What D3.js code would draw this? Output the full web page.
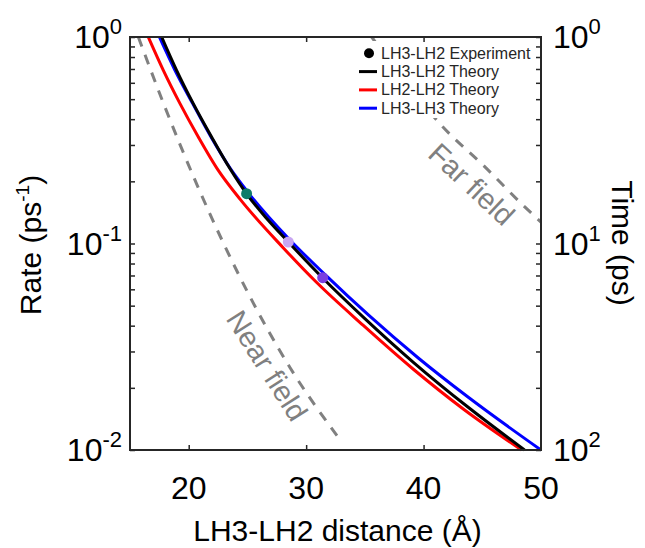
<!DOCTYPE html>
<html>
<head>
<meta charset="utf-8">
<script src="https://cdn.jsdelivr.net/npm/d3@7"></script>
<style>
  body { margin: 0; background: #fff; }
  text { font-family: "Liberation Sans", Arial, sans-serif; }
</style>
</head>
<body>
<svg id="chart" width="645" height="548"></svg>
<script>
// values
const lh3lh2Dist = [17.70, 18.97, 20.39, 21.95, 23.52, 24.93, 26.64, 28.48, 31.41, 35.00, 39.13, 43.80, 48.60];
const lh3lh2Rate = [1.0, 0.690, 0.476, 0.328, 0.230, 0.174, 0.132, 0.1017, 0.0681, 0.0433, 0.0266, 0.0161, 0.0100];

const lh2lh2Dist = [16.56, 17.84, 19.26, 20.82, 22.52, 24.37, 28.06, 30.90, 34.87, 39.13, 43.38, 48.35];
const lh2lh2Rate = [1.0, 0.690, 0.476, 0.328, 0.226, 0.164, 0.0952, 0.0647, 0.0401, 0.0246, 0.0158, 0.0100];

const lh3lh3Dist = [17.50, 18.83, 20.34, 21.90, 23.52, 25.08, 28.62, 31.75, 35.30, 39.55, 43.81, 50.0];
const lh3lh3Rate = [1.0, 0.690, 0.476, 0.328, 0.232, 0.176, 0.104, 0.0695, 0.0451, 0.0279, 0.0180, 0.0100];

const nearDist = [15.71, 17.84, 20.68, 22.95, 25.05, 28.62, 32.71];
const nearRate = [1.0, 0.479, 0.194, 0.1006, 0.0576, 0.0251, 0.01156];

const farDist = [35.58, 38.56, 41.65, 45.09, 48.64, 50.0];
const farRate = [1.0, 0.594, 0.3665, 0.239, 0.150, 0.127];

const expDist = [24.93, 28.48, 31.41];
const expRate = [0.1743, 0.1017, 0.0683];
const expColors = ['#0f7b6a', '#c8a6f2', '#7a3fe0'];

const xTicks = [20, 30, 40, 50];
const rateMajor = [0.01, 0.1, 1];
const rateExp = ['-2', '-1', '0'];
const timeMajor = [1, 10, 100];
const timeExp = ['0', '1', '2'];

const legendLabels = ['LH3-LH2 Experiment', 'LH3-LH2 Theory', 'LH2-LH2 Theory', 'LH3-LH3 Theory'];
const legendColors = ['#000', '#000', '#ff0000', '#0000ff'];

const svg = d3.select('#chart');
const pLeft = 130, pRight = 541, pTop = 37, pBottom = 450;
const axisColor = '#262626';

const x = d3.scaleLinear().domain([15, 50]).range([pLeft, pRight]);
const y = d3.scaleLog().domain([0.01, 1]).range([pBottom, pTop]);
const yTime = d3.scaleLog().domain([1, 100]).range([pTop, pBottom]);

const minorRate = [];
[0.01, 0.1].forEach(d => { for (let k = 1; k <= 9; k++) minorRate.push(d * k); });
minorRate.push(1);
const minorTime = minorRate.map(r => 1 / r);

// curves
const line = d3.line()
    .x(d => x(d[0]))
    .y(d => y(d[1]))
    .curve(d3.curveMonotoneX);

const zipped = (a, b) => a.map((v, i) => [v, b[i]]);

const plot = svg.append('g');

[[nearDist, nearRate], [farDist, farRate]].forEach(([d, r]) => {
    plot.append('path')
        .datum(zipped(d, r))
        .attr('d', line)
        .attr('fill', 'none')
        .attr('stroke', '#808080')
        .attr('stroke-width', 3)
        .attr('stroke-dasharray', '10,9');
});

[[lh3lh3Dist, lh3lh3Rate, '#0000ff'],
 [lh2lh2Dist, lh2lh2Rate, '#ff0000'],
 [lh3lh2Dist, lh3lh2Rate, '#000000']].forEach(([d, r, c]) => {
    plot.append('path')
        .datum(zipped(d, r))
        .attr('d', line)
        .attr('fill', 'none')
        .attr('stroke', c)
        .attr('stroke-width', 3);
});

plot.selectAll('circle.exp')
    .data(zipped(expDist, expRate))
    .join('circle')
    .attr('class', 'exp')
    .attr('cx', d => x(d[0]))
    .attr('cy', d => y(d[1]))
    .attr('r', 5.5)
    .attr('fill', (d, i) => expColors[i]);

// annotations
svg.append('text')
    .attr('transform', 'translate(265,367) rotate(57.5)')
    .attr('text-anchor', 'middle')
    .attr('dominant-baseline', 'middle')
    .attr('font-size', 29)
    .attr('fill', '#808080')
    .text('Near field');

svg.append('text')
    .attr('transform', 'translate(470,186) rotate(43)')
    .attr('text-anchor', 'middle')
    .attr('dominant-baseline', 'middle')
    .attr('font-size', 29)
    .attr('fill', '#808080')
    .text('Far field');

// legend
const legend = svg.append('g');
legend.append('rect')
    .attr('x', 355).attr('y', 41).attr('width', 183).attr('height', 77)
    .attr('fill', '#fff');
legendLabels.forEach((lab, i) => {
    const cy = 53.3 + i * 18.3;
    if (i === 0) {
        legend.append('circle').attr('cx', 369).attr('cy', cy).attr('r', 5).attr('fill', '#000');
    } else {
        legend.append('line')
            .attr('x1', 359).attr('x2', 377).attr('y1', cy).attr('y2', cy)
            .attr('stroke', legendColors[i]).attr('stroke-width', 3);
    }
    legend.append('text')
        .attr('x', 381).attr('y', cy + 5.5)
        .attr('font-size', 16)
        .attr('fill', axisColor)
        .text(lab);
});

// axes
const styleAxis = g => {
    g.select('.domain').remove();
    g.selectAll('.tick line').attr('stroke', axisColor).attr('stroke-width', 1.5);
    g.selectAll('.tick text').remove();
};

svg.append('g')
    .attr('transform', `translate(0,${pBottom})`)
    .call(d3.axisBottom(x).tickValues(xTicks.slice(0, 3)).tickSize(-5))
    .call(styleAxis);
svg.append('g')
    .attr('transform', `translate(0,${pTop})`)
    .call(d3.axisTop(x).tickValues(xTicks.slice(0, 3)).tickSize(-5))
    .call(styleAxis);
svg.append('g')
    .attr('transform', `translate(${pLeft},0)`)
    .call(d3.axisLeft(y).tickValues(minorRate).tickSize(-5))
    .call(styleAxis);
svg.append('g')
    .attr('transform', `translate(${pRight},0)`)
    .call(d3.axisRight(yTime).tickValues(minorTime).tickSize(-5))
    .call(styleAxis);

svg.append('rect')
    .attr('x', pLeft).attr('y', pTop)
    .attr('width', pRight - pLeft).attr('height', pBottom - pTop)
    .attr('fill', 'none')
    .attr('stroke', axisColor)
    .attr('stroke-width', 2);

// tick labels
svg.selectAll('text.xt')
    .data(xTicks)
    .join('text')
    .attr('class', 'xt')
    .attr('x', d => x(d))
    .attr('y', 499)
    .attr('text-anchor', 'middle')
    .attr('font-size', 32)
    .attr('fill', '#000')
    .text(d => d);

const powLabel = (sel, exps) => {
    sel.append('tspan').text('10');
    sel.append('tspan')
        .attr('font-size', 22)
        .attr('dy', -14)
        .text((d, i) => exps[i]);
};

svg.selectAll('text.yl')
    .data(rateMajor)
    .join('text')
    .attr('class', 'yl')
    .attr('x', 122)
    .attr('y', d => y(d) + 11)
    .attr('text-anchor', 'end')
    .attr('font-size', 32)
    .attr('fill', '#000')
    .call(powLabel, rateExp);

svg.selectAll('text.yr')
    .data(timeMajor)
    .join('text')
    .attr('class', 'yr')
    .attr('x', 553)
    .attr('y', d => yTime(d) + 11)
    .attr('font-size', 32)
    .attr('fill', '#000')
    .call(powLabel, timeExp);

// axis titles
svg.append('text')
    .attr('x', (pLeft + pRight) / 2 + 2)
    .attr('y', 541)
    .attr('text-anchor', 'middle')
    .attr('font-size', 30)
    .attr('fill', '#000')
    .text('LH3-LH2 distance (Å)');

const rateTitle = svg.append('text')
    .attr('transform', 'translate(41,245) rotate(-90)')
    .attr('text-anchor', 'middle')
    .attr('font-size', 30)
    .attr('fill', '#000');
rateTitle.append('tspan').text('Rate (ps');
rateTitle.append('tspan').attr('font-size', 19).attr('dy', -12).text('-1');
rateTitle.append('tspan').attr('dy', 12).text(')');

svg.append('text')
    .attr('transform', 'translate(612,243) rotate(90)')
    .attr('text-anchor', 'middle')
    .attr('font-size', 30)
    .attr('fill', '#000')
    .text('Time (ps)');
</script>
</body>
</html>
